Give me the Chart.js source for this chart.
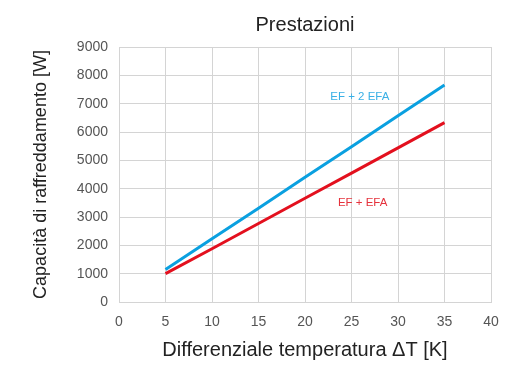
<!DOCTYPE html>
<html>
<head>
<meta charset="utf-8">
<script src="https://cdn.jsdelivr.net/npm/chart.js@4.4.1/dist/chart.umd.min.js"></script>
<style>
  html, body { margin: 0; padding: 0; background: #fff; }
  #wrap { width: 525px; height: 366px; }
</style>
</head>
<body>
<div id="wrap"><canvas id="chart" width="525" height="366"></canvas></div>
<script>
// ── Data ──────────────────────────────────────────────────────────────────────
const deltaT      = [5, 10, 15, 20, 25, 30, 35];
const ef2efa      = [1150, 2230, 3310, 4400, 5480, 6570, 7660];
const efEfa       = [1000, 1880, 2770, 3660, 4550, 5440, 6330];
const seriesNames = ['EF + 2 EFA', 'EF + EFA'];
// label anchors in data units [x, y]
const labelAnchors = [[25.9, 7230], [26.2, 3490]];

const BLUE = '#0aa0e0';
const RED  = '#e3101e';
const FONT = "'Liberation Sans', Arial, sans-serif";

// ── Series labels drawn inside the plot ───────────────────────────────────────
const seriesLabels = {
  id: 'seriesLabels',
  afterDatasetsDraw(chart) {
    const { ctx, scales: { x, y } } = chart;
    ctx.save();
    ctx.font = '11.5px ' + FONT;
    ctx.textAlign = 'center';
    ctx.textBaseline = 'middle';
    chart.data.datasets.forEach((ds, i) => {
      ctx.fillStyle = i === 0 ? '#3ab0e6' : '#e5323c';
      ctx.fillText(ds.label, x.getPixelForValue(labelAnchors[i][0]), y.getPixelForValue(labelAnchors[i][1]));
    });
    ctx.restore();
  }
};

new Chart(document.getElementById('chart'), {
  type: 'line',
  data: {
    datasets: [
      { label: seriesNames[0], data: deltaT.map((t, i) => ({ x: t, y: ef2efa[i] })), borderColor: BLUE },
      { label: seriesNames[1], data: deltaT.map((t, i) => ({ x: t, y: efEfa[i] })), borderColor: RED },
    ]
  },
  options: {
    responsive: false,
    animation: false,
    layout: { padding: { left: 0, right: 34, top: 0, bottom: 0 } },
    elements: {
      line: { borderWidth: 3, tension: 0, fill: false, borderCapStyle: 'butt' },
      point: { radius: 0 }
    },
    plugins: {
      legend: { display: false },
      tooltip: { enabled: false },
      title: {
        display: true,
        fullSize: false,
        text: 'Prestazioni',
        color: '#222',
        font: { family: FONT, size: 20, weight: 'normal' },
        padding: { top: 13, bottom: 10 }
      }
    },
    scales: {
      x: {
        type: 'linear',
        min: 0, max: 40,
        ticks: { stepSize: 5, color: '#555', font: { family: FONT, size: 14 }, padding: 12, callback: v => String(v) },
        grid: { color: '#d4d4d4', drawTicks: false },
        border: { color: '#d4d4d4' },
        title: {
          display: true,
          text: 'Differenziale temperatura \u0394T [K]',
          color: '#222',
          font: { family: FONT, size: 20 },
          padding: { top: 4, bottom: 4 }
        },
        afterFit(s) { s.height = 64; }
      },
      y: {
        min: 0, max: 9000,
        ticks: { stepSize: 1000, color: '#555', font: { family: FONT, size: 14 }, padding: 11, callback: v => String(v) },
        grid: { color: '#d4d4d4', drawTicks: false },
        border: { color: '#d4d4d4' },
        title: {
          display: true,
          text: 'Capacità di raffreddamento [W]',
          color: '#222',
          font: { family: FONT, size: 18 },
          padding: { top: 30, bottom: 4 }
        },
        afterFit(s) { s.width = 119; }
      }
    }
  },
  plugins: [seriesLabels]
});
</script>
</body>
</html>
